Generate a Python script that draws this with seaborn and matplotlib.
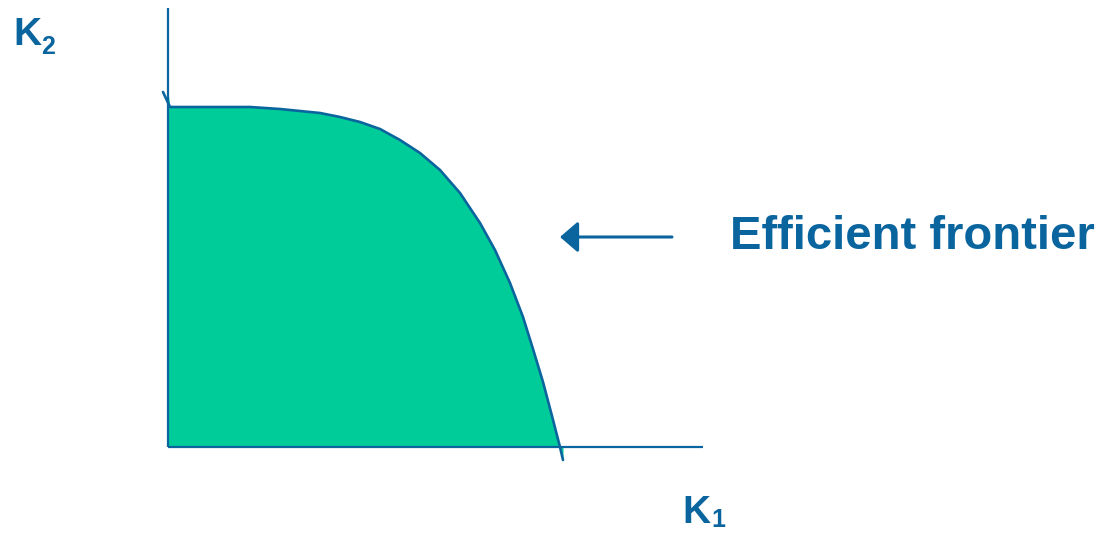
import matplotlib.pyplot as plt
import seaborn as sns
import numpy as np

# frontier points (K1, K2), origin at the corner of the axes
k1 = [-5, 2, 82, 112, 132, 152, 172, 192, 212, 232, 252, 272, 292, 312, 327, 342, 355, 365, 375, 384, 392, 395]
k2 = [355, 340, 340, 338, 336, 334, 330, 325, 318, 307, 294, 277, 254, 224, 197, 164, 130, 98, 65, 31, 0, -13]

k1_axis_len = 535
k2_axis_len = 439
label_text = "Efficient frontier"

blue = "#0A659E"
teal = "#00CC99"

sns.set_theme(style="white")
plt.rcParams["font.family"] = ["Liberation Sans", "DejaVu Sans"]

fig = plt.figure(figsize=(11.01, 5.33), dpi=100)
ax = fig.add_axes([0, 0, 1, 1])
ax.set_xlim(-168, 933)
ax.set_ylim(-86, 447)
ax.axis("off")

x = np.clip(np.array(k1), 0, None)
y = np.array(k2)
ax.fill_between(x, y, 0, color=teal, lw=0)

# axes lines
ax.plot([0, 0], [0, k2_axis_len], color=blue, lw=1.6, solid_capstyle="butt")
ax.plot([0, k1_axis_len], [0, 0], color=blue, lw=1.6, solid_capstyle="butt")

sns.lineplot(x=k1, y=k2, sort=False, color=blue, lw=1.9, ax=ax, estimator=None)

# arrow pointing at the frontier
ax.annotate("", xy=(392, 210), xytext=(504, 210),
            arrowprops=dict(arrowstyle="-|>,head_length=11,head_width=9.5",
                            mutation_scale=1, color=blue, lw=2.2,
                            shrinkA=0, shrinkB=0))

ax.text(562, 198, label_text, fontsize=34, fontweight="bold", color=blue,
        ha="left", va="baseline")

# axis labels with hand placed subscripts
ax.text(-155, 402, "K", fontsize=28, fontweight="bold", color=blue,
        ha="left", va="baseline")
ax.text(-127, 393, "2", fontsize=18, fontweight="bold", color=blue,
        ha="left", va="baseline")
ax.text(514, -76, "K", fontsize=28, fontweight="bold", color=blue,
        ha="left", va="baseline")
ax.text(543, -80, "1", fontsize=18, fontweight="bold", color=blue,
        ha="left", va="baseline")

fig.savefig("out.png", dpi=100)
